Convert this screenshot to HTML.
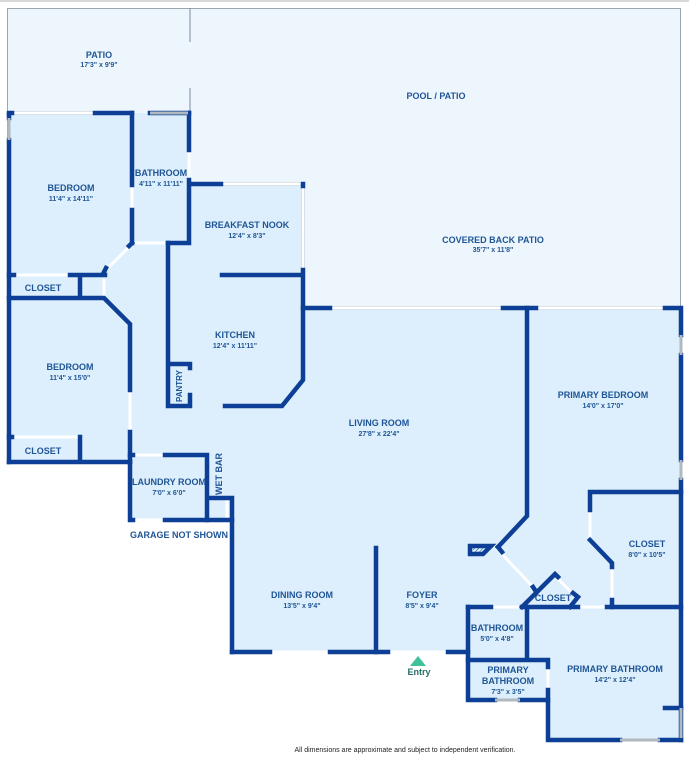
<!DOCTYPE html>
<html><head><meta charset="utf-8"><style>
html,body{margin:0;padding:0;background:#fff;width:689px;height:768px;overflow:hidden}
svg{display:block}
text{font-family:"Liberation Sans",sans-serif;fill:#1f5596;text-anchor:middle}
.t{font-size:9px;font-weight:bold}
.d{font-size:7px;font-weight:bold}
</style></head><body>
<svg width="689" height="768" viewBox="0 0 689 768">
<defs><pattern id="h" width="3" height="3" patternUnits="userSpaceOnUse" patternTransform="rotate(45)"><line x1="0" y1="0" x2="0" y2="3" stroke="#0c3f95" stroke-width="1"/></pattern></defs>
<rect x="0" y="0" width="689" height="2" fill="#d8d8d8"/>
<rect x="7.5" y="8.5" width="673" height="300" fill="#eef6fd" stroke="#9aa6b2" stroke-width="1"/>
<line x1="190" y1="8" x2="190" y2="42" stroke="#7a8aa0" stroke-width="1"/>
<line x1="190" y1="88" x2="190" y2="112" stroke="#7a8aa0" stroke-width="1"/>
<polygon points="8,113 190,113 190,184 303,184 303,308 681,308 681,740 548,740 548,700 468,700 468,652 230,652 230,520 130,520 130,462 8,462" fill="#ddeffc"/>
<g stroke="#ffffff" stroke-width="3" fill="none">
<path d="M12,113 H95 M189,150 V180 M135,243 H165 M221,184 H300 M303,186 V270 M330,308 H503 M536,308 H665"/>
<path d="M130,246 L106,270 M14,275 H70 M80,279 V298 M104,279 V296 M130,390 V432 M12,437 H80"/>
<path d="M133,455 H165 M133,520 H165 M227,500 V518 M270,652 H330 M388,652 H448"/>
<path d="M500,552 L533,587 M557,578 L572,593 M491,607 H522 M578,607 H607 M590,510 V540 M612,567 V600 M548,667 V690"/>
<path d="M132,185 V210"/>
</g>
<g stroke="#c5ccd3" stroke-width="0.6" fill="none">
<path d="M12,111.5 H95 M12,114.5 H95 M330,306.5 H503 M330,309.5 H503 M536,306.5 H665 M536,309.5 H665 M221,182.5 H300 M221,185.5 H300 M301.5,186 V270 M304.5,186 V270"/>
</g>
<g stroke="#0c3f95" stroke-width="4.5" fill="none" stroke-linecap="square">
<path d="M9,113 H12 M95,113 H132 M150,113 H189"/>
<path d="M9,115 V118 M9,140 V462"/>
<path d="M132,113 V185 M132,210 V243"/>
<path d="M189,113 V150 M189,180 V243 H168"/>
<path d="M132,243 L129,246 M106,268 L104,272"/>
<path d="M9,275 H14 M70,275 H105 M80,275 V298 M9,298 H104 L130,324 V390 M130,432 V462"/>
<path d="M9,437 H12 M80,437 V462 M9,462 H130"/>
<path d="M168,243 V406 H190 V395 M190,368 V364 H168"/>
<path d="M190,184 H221 M303,184 V186"/>
<path d="M303,270 V380 L282,406 H225 M222,275 H303"/>
<path d="M303,308 H330 M503,308 H536 M665,308 H681 V335 M681,355 V460 M681,480 V740"/>
<path d="M527,308 V516 L498,547"/>
<path d="M470,546 H491 L483,554 H470 Z"/>
<path d="M498,547 L502,552 M533,587 L535,590"/>
<path d="M522,607 L555,574 L558,577 M573,593 L578,597 L570,607"/>
<path d="M468,607 H491 M522,607 H578 M607,607 H681"/>
<path d="M590,492 H681 M590,492 V510 M590,540 L612,563 V567 M612,600 V607"/>
<path d="M130,455 H133 M165,455 H207 V520 M207,498 H232 V652"/>
<path d="M130,462 V520 H133 M165,520 H232"/>
<path d="M232,652 H270 M330,652 H388 M448,652 H468"/>
<path d="M376,548 V652"/>
<path d="M468,607 V700 H495 M520,700 H548 V740 H620 M660,740 H681"/>
<path d="M527,607 V660 M468,660 H548 V667 M548,690 V700"/>
<path d="M665,708 H681"/>
</g>
<g stroke="#b0b8c0" stroke-width="3">
<path d="M9,118 V140 M150,113 H188 M681,335 V355 M681,460 V480 M495,700 H520 M620,740 H660 M681,708 V738"/>
</g>
<rect x="473" y="548" width="10" height="6" fill="url(#h)"/>
<polygon points="418,656 426,666 410,666" fill="#3fc29a"/>
<text class="t" x="99" y="58">PATIO</text><text class="d" x="99" y="67">17'3" x 9'9"</text>
<text class="t" x="436" y="99">POOL / PATIO</text>
<text class="t" x="493" y="243">COVERED BACK PATIO</text><text class="d" x="493" y="252">35'7" x 11'8"</text>
<text class="t" x="71" y="191">BEDROOM</text><text class="d" x="71" y="201">11'4" x 14'11"</text>
<text class="t" x="161" y="176">BATHROOM</text><text class="d" x="161" y="186">4'11" x 11'11"</text>
<text class="t" x="247" y="228">BREAKFAST NOOK</text><text class="d" x="247" y="238">12'4" x 8'3"</text>
<text class="t" x="43" y="291">CLOSET</text>
<text class="t" x="235" y="338">KITCHEN</text><text class="d" x="235" y="348">12'4" x 11'11"</text>
<text class="t" x="70" y="370">BEDROOM</text><text class="d" x="70" y="380">11'4" x 15'0"</text>
<text class="t" x="0" y="0" transform="translate(182,386) rotate(-90)" style="font-size:8px">PANTRY</text>
<text class="t" x="379" y="426">LIVING ROOM</text><text class="d" x="379" y="436">27'8" x 22'4"</text>
<text class="t" x="603" y="398">PRIMARY BEDROOM</text><text class="d" x="603" y="408">14'0" x 17'0"</text>
<text class="t" x="43" y="454">CLOSET</text>
<text class="t" x="169" y="485">LAUNDRY ROOM</text><text class="d" x="169" y="495">7'0" x 6'0"</text>
<text class="t" x="0" y="0" transform="translate(222,474) rotate(-90)">WET BAR</text>
<text class="t" x="179" y="538">GARAGE NOT SHOWN</text>
<text class="t" x="647" y="547">CLOSET</text><text class="d" x="647" y="557">8'0" x 10'5"</text>
<text class="t" x="302" y="598">DINING ROOM</text><text class="d" x="302" y="608">13'5" x 9'4"</text>
<text class="t" x="422" y="598">FOYER</text><text class="d" x="422" y="608">8'5" x 9'4"</text>
<text class="t" x="553" y="601">CLOSET</text>
<text class="t" x="497" y="631">BATHROOM</text><text class="d" x="497" y="641">5'0" x 4'8"</text>
<text class="t" x="419" y="675" style="fill:#2a6f6a">Entry</text>
<text class="t" x="615" y="672">PRIMARY BATHROOM</text><text class="d" x="615" y="682">14'2" x 12'4"</text>
<text class="t" x="508" y="673">PRIMARY</text><text class="t" x="508" y="684">BATHROOM</text><text class="d" x="508" y="694">7'3" x 3'5"</text>
<text x="405" y="752" style="font-size:7px;fill:#222">All dimensions are approximate and subject to independent verification.</text>
</svg>
</body></html>
